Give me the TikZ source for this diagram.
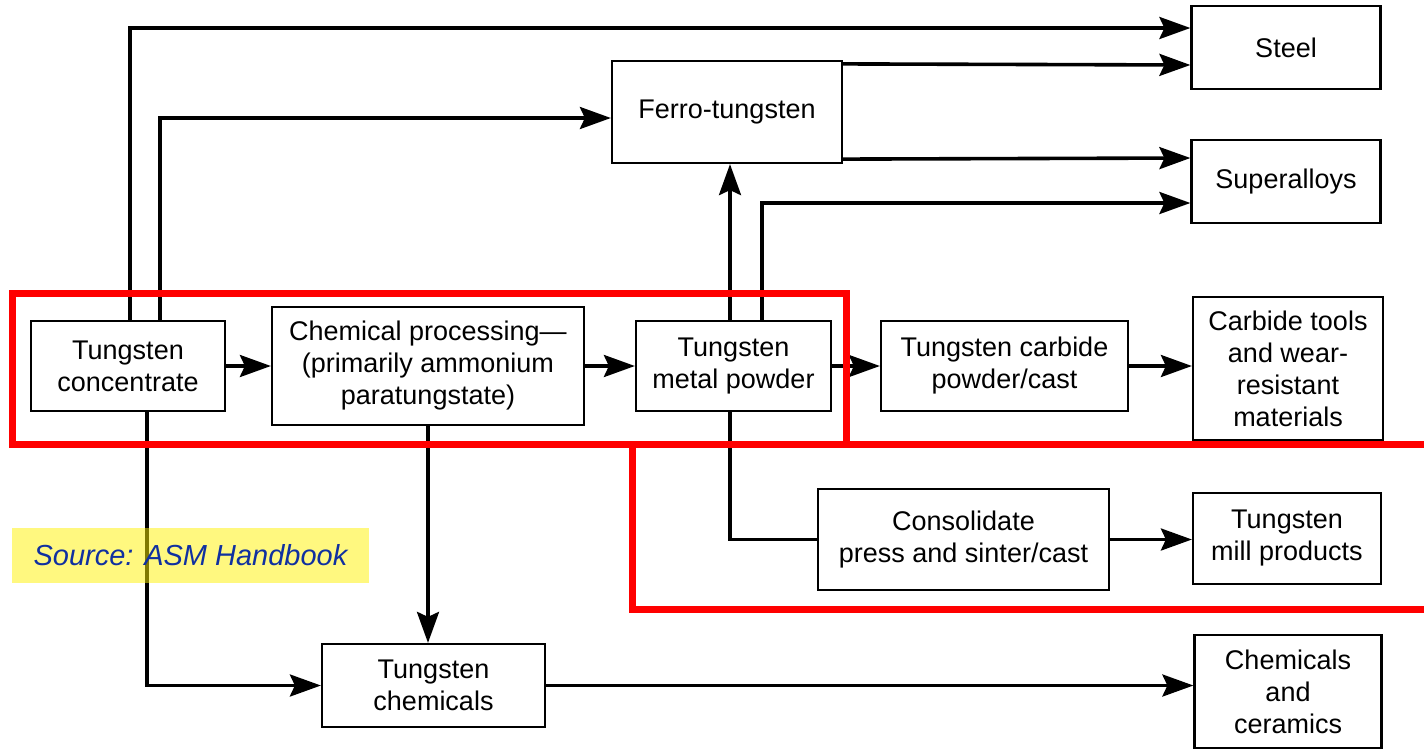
\documentclass[tikz,border=0pt]{standalone}
\usepackage{fontspec}
\setmainfont{Liberation Sans}
\usepackage{xcolor}
\usetikzlibrary{calc, arrows.meta}

\definecolor{srcblue}{RGB}{16,48,160}

\begin{document}
\begin{tikzpicture}[x=1pt, y=-1pt,
    box/.style = {draw, line width=2.2pt, align=center, inner sep=0pt,
                  font=\fontsize{27}{32}\selectfont},
    flow/.style = {line width=3.6pt, -{Stealth[length=31pt, width=22pt, inset=5pt]}},
    link/.style = {line width=3.6pt},
    hilite/.style = {draw=red, line width=7pt},
    source/.style = {fill=yellow, fill opacity=0.5, text opacity=1, text=srcblue,
                     minimum width=357, minimum height=55, inner sep=0pt,
                     font=\fontsize{29}{32}\selectfont\itshape}]

   \useasboundingbox (0,0) rectangle (1424,750);

    % Draw the main row
    \node[box, minimum width=194, minimum height=90] (conc) at (128,366) {Tungsten\\concentrate};
    \node[box, minimum width=312, minimum height=118] (chemproc) at (428,366) {Chemical processing—\\(primarily ammonium\\paratungstate)};
    \node[box, minimum width=195, minimum height=90] (powder) at (733.5,366) {Tungsten\\metal powder};
    \node[box, minimum width=247, minimum height=90] (carbide) at (1004.5,366) {Tungsten carbide\\powder/cast};
    \node[box, minimum width=190, minimum height=143] (tools) at (1288,368.5) {Carbide tools\\and wear-\\resistant\\materials};

    % Draw the upper boxes
    \node[box, minimum width=230, minimum height=102] (ferro) at (727,112) {Ferro-tungsten};
    \node[box, minimum width=189, minimum height=83] (steel) at (1286,47.5) {Steel};
    \node[box, minimum width=189, minimum height=83] (superalloys) at (1286,181.5) {Superalloys};

    % Draw the lower boxes
    \node[box, minimum width=291, minimum height=101] (consol) at (963.5,539.5) {Consolidate\\press and sinter/cast};
    \node[box, minimum width=188, minimum height=91] (mill) at (1287,538.5) {Tungsten\\mill products};
    \node[box, minimum width=223, minimum height=83] (wchem) at (433.5,685.5) {Tungsten\\chemicals};
    \node[box, minimum width=187, minimum height=113] (ceramics) at (1288,691.5) {Chemicals\\and\\ceramics};

    % Arrows along the main row
    \draw[flow] (conc.east) -- (chemproc.west);
    \draw[flow] (chemproc.east) -- (powder.west);
    \draw[flow] (powder.east) -- (carbide.west);
    \draw[flow] (carbide.east) -- (carbide.east -| tools.west);
    \draw[flow] (consol.east) -- (consol.east -| mill.west);
    \draw[flow] (wchem.east) -- (wchem.east -| ceramics.west);

    % Arrows from the concentrate
    \draw[flow] ($(conc.north)+(2,0)$) |- ($(steel.west)+(0,-19.5)$);
    \draw[flow] ($(conc.north)+(32,0)$) |- ($(ferro.west)+(0,6)$);
    \draw[flow] ($(conc.south)+(19,0)$) |- (wchem.west);
    \draw[flow] (chemproc.south) -- (chemproc.south |- wchem.north);

    % Arrows from ferro-tungsten and the powder
    \draw[flow] ($(ferro.north east)+(0,4)$) -- ($(steel.west)+(0,17.5)$);
    \draw[flow] ($(ferro.south east)+(0,-5)$) -- ($(superalloys.west)+(0,-23.5)$);
    \draw[flow] ($(powder.north)+(-3.5,0)$) coordinate (up) -- (up |- ferro.south);
    \draw[flow] ($(powder.north)+(28.5,0)$) |- ($(superalloys.west)+(0,21.5)$);
    \draw[link] ($(powder.south)+(-3.5,0)$) |- (consol.west);

    % Highlight frames
    \draw[hilite] (12,293.5) rectangle (846,444);
    \draw[hilite] (1424,444) -- (632,444) -- (632,609) -- (1424,609);

    % Label the source
    \node[source] (src) at (190.5,555.5) {Source: ASM Handbook};

\end{tikzpicture}
\end{document}
